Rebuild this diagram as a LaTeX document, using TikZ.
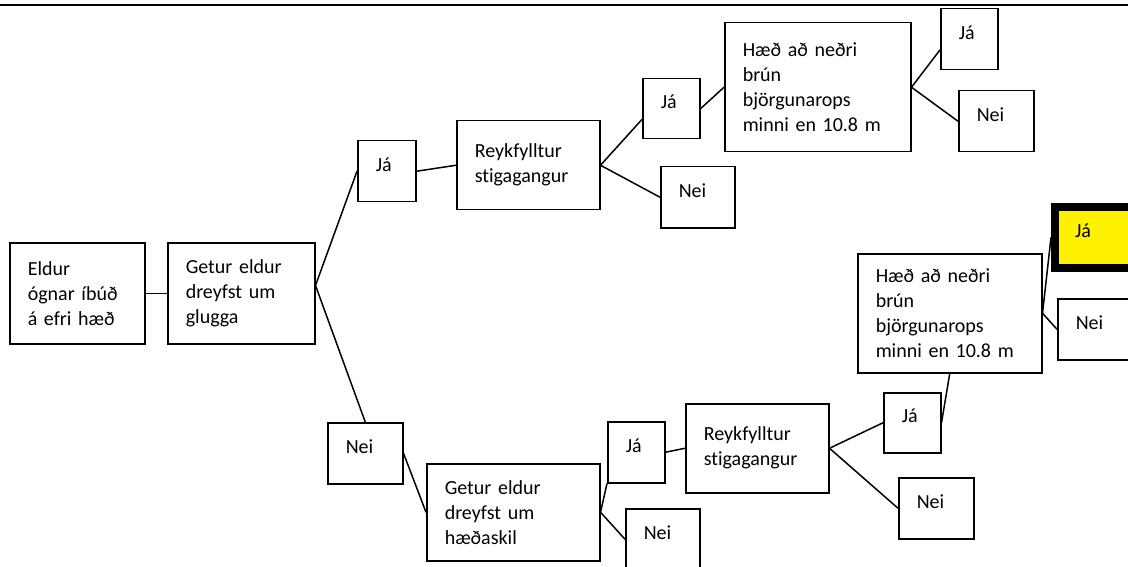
\documentclass[tikz,border=0pt]{standalone}
\usepackage{fontspec}
\setmainfont{Carlito}[Ligatures=NoCommon]
\tikzset{
  box/.style={draw, rectangle, line width=1.5pt, anchor=north west, inner xsep=18pt, inner ysep=0pt, align=left, font=\fontsize{20}{25}\selectfont},
  svar/.style={box, text height=10pt, text depth=10pt, minimum height=61pt},
  link/.style={line width=1.5pt}
}

\begin{document}
\begin{tikzpicture}[x=1pt, y=-1pt]
    \clip (0,0) rectangle (1128,567);
    \draw [line width=2.8pt] (0,5) -- (1128,5);
    \node [box, text width=99pt, minimum height=101pt] (eldur) at (9,242) {Eldur\\ógnar íbúð\\á efri hæð};
    \node [box, text width=111pt, minimum height=101pt] (glugga) at (167,242) {Getur eldur\\dreyfst um\\glugga};
    \node [svar, text width=22pt] (ja1) at (357,140) {Já};
    \node [svar, text width=39pt] (nei1) at (327,422) {Nei};
    \node [box, text width=107pt, minimum height=89pt] (reyk1) at (456,120) {Reykfylltur\\stigagangur};
    \node [svar, text width=21pt, minimum height=60pt] (ja2) at (642,78) {Já};
    \node [svar, text width=38pt] (nei2) at (660,166) {Nei};
    \node [box, text width=150pt, minimum height=129pt] (haed1) at (724,22) {Hæð að neðri\\brún\\björgunarops\\minni en 10.8 m};
    \node [svar, text width=21pt] (ja3) at (940,8) {Já};
    \node [svar, text width=39pt] (nei3) at (958,90) {Nei};
    \node [box, text width=137pt, minimum height=97pt] (glugga2) at (426,463) {Getur eldur\\dreyfst um\\hæðaskil};
    \node [svar, text width=21pt] (ja5) at (607,421) {Já};
    \node [svar, text width=38pt] (nei4) at (625,508) {Nei};
    \node [box, text width=107pt, minimum height=89pt] (reyk2) at (685,403) {Reykfylltur\\stigagangur};
    \node [svar, text width=21pt, minimum height=60pt] (ja4) at (883,392) {Já};
    \node [svar, text width=39pt] (nei5) at (898,477) {Nei};
    \node [box, text width=148pt, minimum height=119pt] (haed2) at (857,253) {Hæð að neðri\\brún\\björgunarops\\minni en 10.8 m};
    \node [svar, text width=54pt, inner xsep=20pt, line width=8pt, fill=yellow] (jagult) at (1051,203) {Já};
    \node [svar, text width=42pt] (nei6) at (1057,298) {Nei};
    \draw [link] (eldur) -- (glugga);
    \draw [link] (glugga.6) -- (ja1.west);
    \draw [link] (glugga.6) -- (nei1.north);
    \draw [link] (ja1.east) -- (reyk1.west);
    \draw [link] (reyk1.east) -- (ja2.200);
    \draw [link] (reyk1.east) -- (nei2.west);
    \draw [link] (ja2.east) -- (haed1.west);
    \draw [link] (haed1.east) -- (ja3.200);
    \draw [link] (haed1.east) -- (nei3.west);
    \draw [link] (nei1.east) -- (glugga2.west);
    \draw [link] (glugga2.east) -- (ja5.south west);
    \draw [link] (glugga2.east) -- (nei4.west);
    \draw [link] (ja5.east) -- (reyk2.west);
    \draw [link] (reyk2.east) -- (ja4.west);
    \draw [link] (reyk2.east) -- (nei5.west);
    \draw [link] (ja4.east) -- (haed2.south);
    \draw [link] (haed2.east) -- (jagult.west);
    \draw [link] (haed2.east) -- (nei6.west);
\end{tikzpicture}
\end{document}
